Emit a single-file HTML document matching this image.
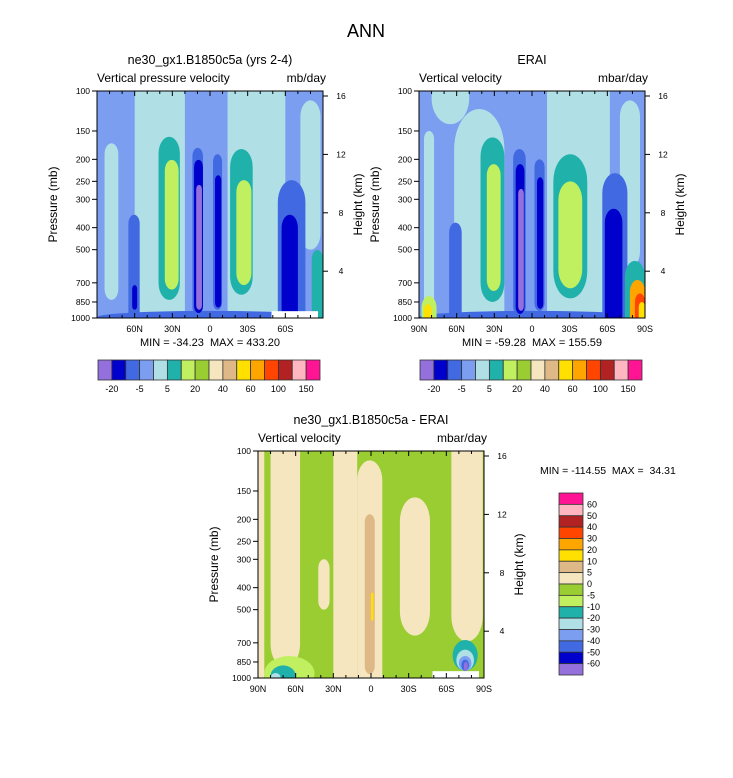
<!DOCTYPE html>
<html><head><meta charset="utf-8"><style>
body{margin:0;background:#fff}
svg{font-family:"Liberation Sans",sans-serif}
text{white-space:pre}
</style></head><body>
<svg id="c" width="733" height="773" viewBox="0 0 733 773" xmlns="http://www.w3.org/2000/svg"></svg>
<script>
const colors=["#9370DB","#0000CD","#4169E1","#7B9EF0","#B0E0E6","#20B2AA","#C0F060","#9ACD32","#F5E6C0","#DEB887","#FFE000","#FFA500","#FF4500","#B22222","#FFB6C1","#FF1493"];
const topBarLabels=["-20","-5","5","20","40","60","100","150"];
const diffLevels=["60","50","40","30","20","10","5","0","-5","-10","-20","-30","-40","-50","-60"];
const latTicks=[90,60,30,0,-30,-60,-90];
const presTicks=[100,150,200,250,300,400,500,700,850,1000];
const hgtTicks=[16,12,8,4];
// blobs: [lat1, lat2, pTop, pBottom, colorIndex]
const modelBlobs=[
[84,73,170,832,4],[60,20,100,1000,4],[-14,-60,100,1000,4],[-72,-88,110,500,4],
[90,-90,930,1000,2],
[41,24,159,832,5],[36,25,201,750,6],
[14,5.6,178,970,2],[12.7,5.6,201,950,1],[11,6.4,259,920,0],
[-2.4,-9.6,190,920,2],[-4,-9,235,900,1],
[-16,-34,180,790,5],[-21,-33,247,716,6],
[-54,-76,247,1000,2],[-57,-70,351,1000,1],
[65,56,351,1000,2],[62,58,716,920,1],
[-81,-90,502,1000,5],[-49,-86,933,1000,-1]];
const eraiBlobs=[
[80,50,100,140,4],[86,78,150,900,4],[62,22,120,1000,4],[-12,-62,100,1000,4],[-70,-86,110,600,4],
[90,-90,930,1000,2],
[41,22,160,850,5],[36,25,210,760,6],
[15,5,180,980,2],[13,6,210,960,1],[11,6.5,270,930,0],
[-2,-10,200,930,2],[-4,-9,240,910,1],
[-17,-44,190,820,5],[-21,-40,250,740,6],
[-56,-76,230,1000,2],[-58,-72,330,1000,1],
[66,56,380,1000,2],
[88,76,800,1000,6],[86,80,870,1000,10],
[-74,-90,560,1000,5],[-78,-90,680,1000,11],[-82,-90,780,1000,12],[-85,-90,850,1000,10]];
const diffBlobs=[
[90,85,100,1000,8],[80,56.5,100,900,8],[30,11,100,1000,8],[11,-9,110,1000,8],
[5,-3,190,960,9],[0,-2,420,560,10],[-23,-47,160,650,8],[-64,-89,100,690,8],[42,33,300,500,8],
[85,45,800,1000,6],[80,60,880,1000,5],[80,72,950,1000,4],
[-65,-85,680,930,5],[-68,-82,750,930,4],[-70,-80,800,930,3],[-72,-78,830,930,2],[-74,-77,850,930,0],
[-49,-86,933,1000,-1]];

const svg=document.getElementById('c');
const NS="http://www.w3.org/2000/svg";
function mk(tag,attrs,parent){const e=document.createElementNS(NS,tag);for(const k in attrs)e.setAttribute(k,attrs[k]);(parent||svg).appendChild(e);return e;}
function txt(x,y,s,size,anchor,parent,rot){const t=mk('text',{x:x,y:y,'font-size':size,'text-anchor':anchor||'middle',fill:'#000'},parent);if(rot)t.setAttribute('transform',`rotate(-90 ${x} ${y})`);t.textContent=s;return t;}

function panel(px,py,blobs,bg,title,sub,unit,showEnds,name){
  const W=226,H=227;
  const g=mk('g',{});
  
  
  const X=lat=>px+(90-lat)/180*W;
  const Y=p=>py+(Math.log10(p)-2)*H;
  const Yz=z=>py+5+(16-z)*14.6;
  mk('rect',{x:px,y:py,width:W,height:H,fill:colors[bg]},g);
  const clip='cl'+name;
  const cp=mk('clipPath',{id:clip},g);mk('rect',{x:px,y:py,width:W,height:H},cp);
  const bg2=mk('g',{'clip-path':`url(#${clip})`},g);
  blobs.forEach(b=>{
    const x1=X(b[0]),x2=X(b[1]);
    let y1=Y(b[2]),y2=Y(b[3]);
    const w=x2-x1;
    if(b[4]<0){
      const e=mk('rect',{x:x1,y:y1,width:w,height:y2-y1+1,fill:'#fff'},bg2);
      
      
      return;
    }
    const ry0=Math.min((y2-y1)/2,w*0.8);
    if(b[2]<=100)y1-=ry0+2;
    if(b[3]>=1000)y2+=ry0+2;
    const h=y2-y1;
    const e=mk('rect',{x:x1,y:y1,width:w,height:h,rx:w/2,ry:Math.min(h/2,w*0.8),fill:colors[b[4]]},bg2);
    
    
  });
  mk('rect',{x:px,y:py,width:W,height:H,fill:'none',stroke:'#000','stroke-width':1},g);
  latTicks.forEach(l=>{
    const x=X(l);
    mk('line',{x1:x,x2:x,y1:py+H,y2:py+H-5,stroke:'#000'},g);
    mk('line',{x1:x,x2:x,y1:py,y2:py+5,stroke:'#000'},g);
    const lab=l===0?'0':Math.abs(l)+(l>0?'N':'S');
    if(showEnds||Math.abs(l)!==90){const t=txt(x,py+H+14,lab,9,'middle',g);}
  });
  for(let l=80;l>-90;l-=10){if(l%30){const x=X(l);mk('line',{x1:x,x2:x,y1:py+H,y2:py+H-3,stroke:'#000'},g);mk('line',{x1:x,x2:x,y1:py,y2:py+3,stroke:'#000'},g);}}
  presTicks.forEach(p=>{const y=Y(p);mk('line',{x1:px-5,x2:px,y1:y,y2:y,stroke:'#000'},g);
    const t=txt(px-7,y+3,String(p),8.5,'end',g);});
  hgtTicks.forEach(z=>{const y=Yz(z);mk('line',{x1:px+W,x2:px+W+5,y1:y,y2:y,stroke:'#000'},g);
    const t=txt(px+W+18,y+3,String(z),8.5,'middle',g);});
  txt(px+W/2,py-27,title,12.5,'middle',g);
  txt(px,py-9,sub,12,'start',g);
  txt(px+W+3,py-9,unit,12,'end',g);
  txt(px-40,py+H/2,'Pressure (mb)',12,'middle',g,true);
  txt(px+W+39,py+H/2,'Height (km)',12,'middle',g,true);
}
function hbar(x,y,name){
  const g=mk('g',{});
  const w=222/16;
  colors.forEach((c,i)=>{const r=mk('rect',{x:x+i*w,y:y,width:w,height:20,fill:c,stroke:'#333','stroke-width':0.8},g);});
  topBarLabels.forEach((s,i)=>{txt(x+(2*i+1)*w,y+32,s,9,'middle',g);});
}
txt(366,37,'ANN',18,'middle');
panel(97,91,modelBlobs,3,'ne30_gx1.B1850c5a (yrs 2-4)','Vertical pressure velocity','mb/day',false,'model-panel');
panel(419,91,eraiBlobs,3,'ERAI','Vertical velocity','mbar/day',true,'erai-panel');
panel(258,451,diffBlobs,7,'ne30_gx1.B1850c5a - ERAI','Vertical velocity','mbar/day',true,'diff-panel');
txt(210,346,'MIN = -34.23  MAX = 433.20',11);
txt(532,346,'MIN = -59.28  MAX = 155.59',11);
txt(540,474,'MIN = -114.55  MAX =  34.31',10.5,'start');
hbar(98,360,'model-colorbar');
hbar(420,360,'erai-colorbar');
const vg=mk('g',{});
const bh=182/16;
colors.slice().reverse().forEach((c,i)=>{const r=mk('rect',{x:559,y:493+i*bh,width:24,height:bh,fill:c,stroke:'#333','stroke-width':0.8},vg);});
diffLevels.forEach((s,i)=>{txt(587,493+(i+1)*bh+3,s,9,'start',vg);});
</script>
</body></html>
